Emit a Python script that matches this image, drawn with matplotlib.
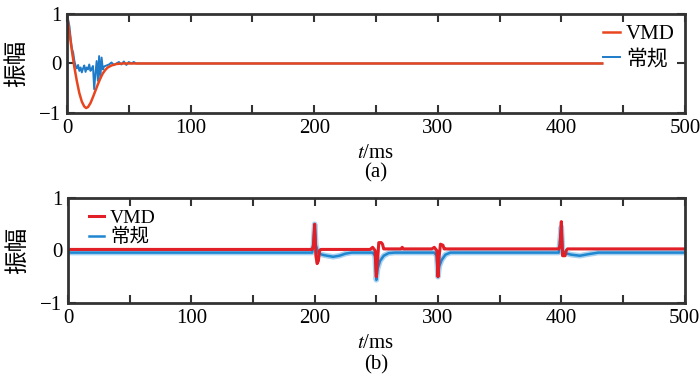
import matplotlib.pyplot as plt
from matplotlib.ticker import MultipleLocator

plt.rcParams['font.family'] = ['Liberation Serif', 'Noto Sans CJK SC']
plt.rcParams['mathtext.fontset'] = 'stix'
plt.rcParams['axes.unicode_minus'] = True

# ------------------------
# Data
# ------------------------
# (a) top panel
a_vmd_t = [0, 2, 4, 6, 8, 10, 12, 14, 15.5, 17, 19, 21, 23, 25, 27, 29, 31, 33, 36, 40, 45, 433]
a_vmd_v = [1.0, 0.62, 0.25, -0.08, -0.36, -0.6, -0.77, -0.87, -0.9, -0.88, -0.8, -0.68, -0.55,
           -0.42, -0.3, -0.2, -0.13, -0.08, -0.04, -0.01, 0.0, 0.0]

a_conv_t = [0, 2, 3, 4, 5, 6, 7, 8, 9, 10, 11, 12, 13, 14, 15, 16, 17, 18, 19, 20, 21, 22, 23,
            24, 25, 26, 27, 28, 29, 30, 32, 34, 36, 38, 40, 42, 44, 46, 48, 50, 52, 54, 56, 433]
a_conv_v = [1.0, 0.75, 0.5, 0.3, 0.22, 0.05, -0.05, -0.1, -0.03, -0.15, -0.08, -0.18, -0.1, -0.04,
            -0.17, -0.08, -0.12, -0.02, -0.15, -0.1, -0.05, -0.52, -0.2, 0.05, -0.35, 0.15, -0.3,
            0.12, -0.12, -0.06, -0.04, -0.02, 0.02, -0.03, 0.0, 0.03, -0.02, 0.04, -0.03, 0.03,
            0.0, 0.03, 0.0, 0.0]

# (b) bottom panel
b_vmd_t = [2, 198, 199, 200, 201, 202, 203, 204, 205, 245, 247, 249, 250, 251, 252, 254, 255, 256,
           257, 270, 271, 272, 295, 297, 299, 300, 301, 302, 304, 305, 306, 398, 399, 400, 401,
           403, 404, 405, 500]
b_vmd_v = [0.02, 0.02, 0.1, 0.5, -0.1, -0.25, -0.2, 0.0, 0.02, 0.02, 0.06, 0.0, -0.5, -0.2, 0.15,
           0.15, 0.12, 0.03, 0.03, 0.03, 0.06, 0.03, 0.03, 0.06, 0.0, -0.5, -0.1, 0.12, 0.1, 0.03,
           0.03, 0.03, 0.1, 0.55, -0.1, -0.1, 0.0, 0.03, 0.03]

b_conv_t = [0, 198, 199, 200, 201, 203, 206, 210, 215, 220, 225, 230, 247, 249, 250, 251, 253,
            256, 260, 265, 297, 299, 300, 301, 303, 306, 310, 398, 400, 401, 403, 408, 415, 422,
            430, 500]
b_conv_v = [-0.04, -0.04, 0.1, 0.5, 0.1, -0.05, -0.08, -0.1, -0.12, -0.1, -0.06, -0.04, -0.04,
            -0.1, -0.56, -0.35, -0.2, -0.1, -0.05, -0.04, -0.04, -0.1, -0.5, -0.3, -0.18, -0.08,
            -0.04, -0.04, 0.45, 0.0, -0.05, -0.08, -0.1, -0.07, -0.04, -0.04]

labels = ["VMD", "常规"]
xticks = [0, 100, 200, 300, 400, 500]
yticks = [-1, 0, 1]

# ------------------------
# Figure
# ------------------------
fig = plt.figure(figsize=(7, 3.83), dpi=100)
ax1 = fig.add_axes([0.0957, 0.705, 0.883, 0.2585])
ax2 = fig.add_axes([0.0971, 0.209, 0.881, 0.274])

ax1.plot(a_conv_t, a_conv_v, color="#1f7bc8", lw=1.4, label=labels[1])
ax1.plot(a_vmd_t, a_vmd_v, color="#e8461e", lw=1.8, label=labels[0])

ax2.plot(b_conv_t, b_conv_v, color="#a8d2f0", lw=4.0, solid_joinstyle="round")
ax2.plot(b_conv_t, b_conv_v, color="#1f86d0", lw=1.8, label=labels[1])
ax2.plot(b_vmd_t, b_vmd_v, color="#e01f26", lw=2.2, label=labels[0])

for ax in (ax1, ax2):
    ax.set_xlim(0, 500)
    ax.set_ylim(-1, 1)
    ax.set_xticks(xticks)
    ax.xaxis.set_minor_locator(MultipleLocator(50))
    ax.set_yticks(yticks)
    ax.tick_params(which="both", direction="in", top=True, right=True,
                   length=6, width=1.5, color="#333333", labelsize=15, pad=4)
    for s in ax.spines.values():
        s.set_linewidth(2.0)
        s.set_color("#333333")
    ax.set_ylabel("振幅", family=["Noto Sans CJK SC"], fontsize=17)
    ax.yaxis.set_label_coords(-0.063, 0.5)

h, l = ax1.get_legend_handles_labels()
ax1.legend(h[::-1], l[::-1], loc="upper right", frameon=False, fontsize=15,
           handlelength=0.8, handletextpad=0.3, borderaxespad=0.1, labelspacing=0.25)
h, l = ax2.get_legend_handles_labels()
ax2.legend(h[::-1], l[::-1], loc="upper left", frameon=False, fontsize=14,
           handlelength=0.8, handletextpad=0.3, borderaxespad=0.2, labelspacing=0.05,
           bbox_to_anchor=(0.015, 1.0))

fig.text(0.537, 1 - 153 / 383, "$t$/ms", ha="center", va="center", fontsize=15)
fig.text(0.537, 1 - 173 / 383, "(a)", ha="center", va="center", fontsize=15)
fig.text(0.537, 1 - 344 / 383, "$t$/ms", ha="center", va="center", fontsize=15)
fig.text(0.537, 1 - 365 / 383, "(b)", ha="center", va="center", fontsize=15)

plt.savefig("out.png", dpi=100)
plt.close()
